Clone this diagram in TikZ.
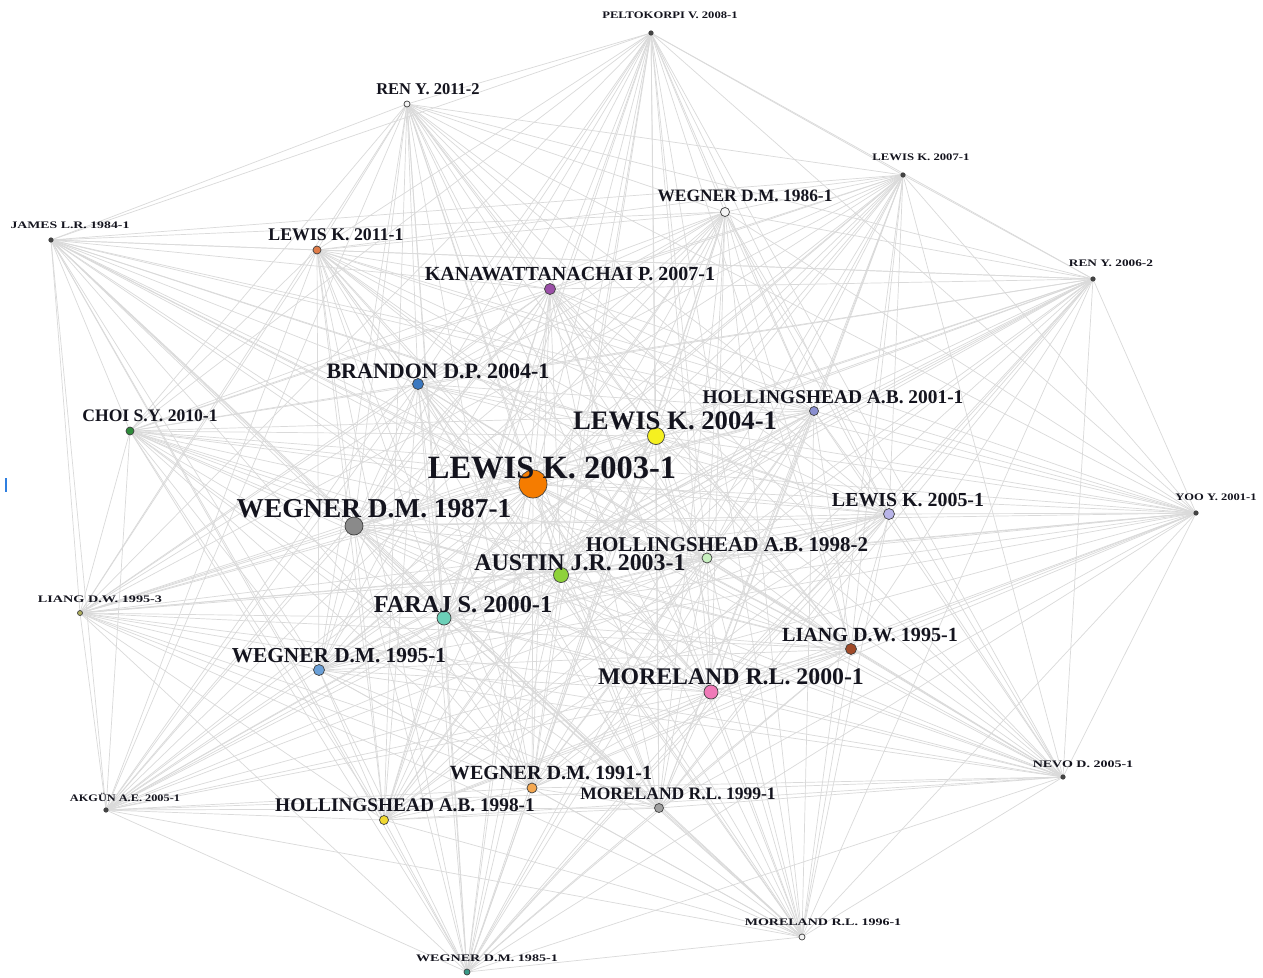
\documentclass[tikz,border=0pt]{standalone}
\usepackage{fontspec}
\setmainfont{Liberation Serif}
\usetikzlibrary{backgrounds}
\definecolor{edgec}{HTML}{DADADA}
\definecolor{txt}{HTML}{14141E}
\definecolor{txts}{HTML}{3A3A4A}
\definecolor{cdark}{HTML}{444444}
\definecolor{cwhite}{HTML}{F4F4F4}
\definecolor{corbr}{HTML}{E07C48}
\definecolor{cpurp}{HTML}{9B4FA8}
\definecolor{cblue}{HTML}{3A78C0}
\definecolor{clav}{HTML}{8A8FD0}
\definecolor{cgreen}{HTML}{2E8B3A}
\definecolor{cyell}{HTML}{F5F020}
\definecolor{corange}{HTML}{F57C00}
\definecolor{clav2}{HTML}{B8B4E8}
\definecolor{cgray}{HTML}{8A8A8A}
\definecolor{cmint}{HTML}{C8F0C0}
\definecolor{clime}{HTML}{8ED23A}
\definecolor{cteal}{HTML}{6CD0B8}
\definecolor{cbrown}{HTML}{A04A28}
\definecolor{csky}{HTML}{6AA0D8}
\definecolor{cpink}{HTML}{F07AB8}
\definecolor{clorange}{HTML}{F5A850}
\definecolor{clgray}{HTML}{A0A0A0}
\definecolor{cgold}{HTML}{F0D830}
\definecolor{cmoss}{HTML}{B0B060}
\definecolor{cdteal}{HTML}{3A9A88}
\definecolor{cursorblue}{HTML}{2F7FE0}
\tikzset{
  vert/.style={circle,draw=black!75,line width=0.7pt,inner sep=0pt},
  lab/.style={inner sep=0pt,anchor=center,text=txt,font=\bfseries},
  edge/.style={draw=edgec,line width=0.7pt}
}
\begin{document}
\begin{tikzpicture}[x=1pt,y=-1pt]
\useasboundingbox (0,0) rectangle (1263,977);
\begin{pgfonlayer}{background}
\fill[white] (0,0) rectangle (1263,977);
\end{pgfonlayer}
% vertices: name/x/y/radius/colour
\foreach \n/\x/\y/\r/\c in {
 1/651/33/2.2/cdark,
 2/407/104/3/cwhite,
 3/903/175/2.2/cdark,
 4/725/212/4.5/cwhite,
 5/51/240/2.2/cdark,
 6/317/250/4/corbr,
 7/1093/279/2.2/cdark,
 8/550/289/5.5/cpurp,
 9/418/384/5.5/cblue,
 10/814/411/4.5/clav,
 11/130/431/4/cgreen,
 12/656/436/8.5/cyell,
 13/533/484/14/corange,
 14/1196/513/2.2/cdark,
 15/889/514/5.5/clav2,
 16/354/526/9/cgray,
 17/707/558/5/cmint,
 18/561/575/7.5/clime,
 19/80/613/2.5/cmoss,
 20/444/618/7/cteal,
 21/851/649/5.5/cbrown,
 22/319/670/5.5/csky,
 23/711/692/7/cpink,
 24/1063/777/2.2/cdark,
 25/532/788/5/clorange,
 26/106/810/2.2/cdark,
 27/659/808/4.5/clgray,
 28/384/820/4.5/cgold,
 29/802/937/3/cwhite,
 30/467/972/3/cdteal}
 {\node[vert,fill=\c,minimum size=2*\r pt] (n\n) at (\x,\y) {};}
% connectors
\begin{pgfonlayer}{background}
\foreach \i in {1,...,29}{
  \pgfmathtruncatemacro{\s}{\i+1}
  \foreach \j in {\s,...,30}{\path[edge] (n\i.center) -- (n\j.center);}
}
\end{pgfonlayer}
% labels: name/x/y/size/hscale/text
\foreach \n/\x/\y/\s/\h/\t in {
 1/670/15/10/1.26/{PELTOKORPI V. 2008-1},
 2/428/89/16.5/1/{REN Y. 2011-2},
 3/921/157/10/1.27/{LEWIS K. 2007-1},
 4/745/196/17.4/1/{WEGNER D.M. 1986-1},
 5/70/225/10/1.38/{JAMES L.R. 1984-1},
 6/336/235/17.8/1/{LEWIS K. 2011-1},
 7/1111/263/10/1.33/{REN Y. 2006-2},
 8/570/274/20/1/{KANAWATTANACHAI P. 2007-1},
 9/438/371/22/1/{BRANDON D.P. 2004-1},
 10/833/397/19.4/1/{HOLLINGSHEAD A.B. 2001-1},
 11/150/416/17.6/1/{CHOI S.Y. 2010-1},
 12/675/421/26.7/1/{LEWIS K. 2004-1},
 13/552/468/32.5/1/{LEWIS K. 2003-1},
 14/1216/497/10/1.25/{YOO Y. 2001-1},
 15/908/500/19.9/1/{LEWIS K. 2005-1},
 16/374/509/27.3/1/{WEGNER D.M. 1987-1},
 17/727/545/21/1/{HOLLINGSHEAD A.B. 1998-2},
 18/580/563/23.9/1/{AUSTIN J.R. 2003-1},
 19/100/599/10/1.42/{LIANG D.W. 1995-3},
 20/463/605/24.3/1/{FARAJ S. 2000-1},
 21/870/635/20.1/1/{LIANG D.W. 1995-1},
 22/339/656/21.3/1/{WEGNER D.M. 1995-1},
 23/731/677/23.8/1/{MORELAND R.L. 2000-1},
 24/1083/764/10/1.40/{NEVO D. 2005-1},
 25/551/773/20.1/1/{WEGNER D.M. 1991-1},
 26/125/797/10/1.23/{AKGÜN A.E. 2005-1},
 27/678/794/17.5/1/{MORELAND R.L. 1999-1},
 28/405/805/19.3/1/{HOLLINGSHEAD A.B. 1998-1},
 29/823/922/10/1.40/{MORELAND R.L. 1996-1},
 30/487/958/10/1.41/{WEGNER D.M. 1985-1}}
 {\node[lab] (l\n) at (\x,\y) {\fontsize{\s}{\s}\selectfont\scalebox{\h}[1]{\t}};}
% stray blue mark at the left edge
\fill[cursorblue] (5,478) rectangle (7,492);
\end{tikzpicture}
\end{document}
